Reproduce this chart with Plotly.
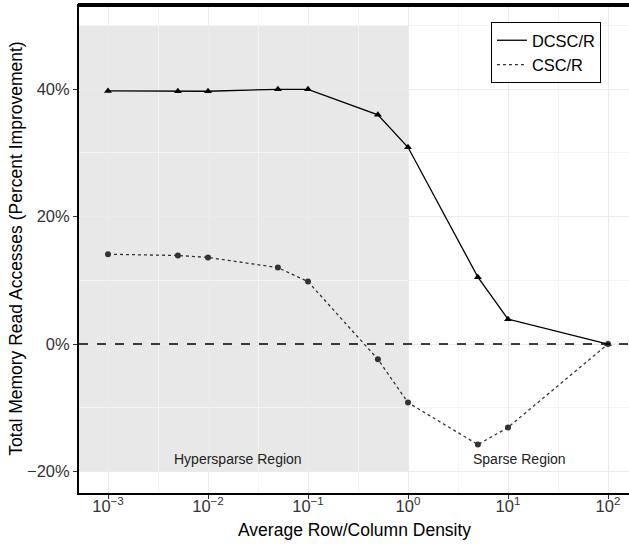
import math
import plotly.graph_objects as go

density = [0.001, 0.005, 0.01, 0.05, 0.1, 0.5, 1, 5, 10, 100]
dcsc = [39.75, 39.7, 39.7, 40.0, 40.0, 36.0, 30.9, 10.5, 3.9, 0.0]
csc = [14.1, 13.9, 13.6, 12.0, 9.8, -2.4, -9.2, -15.8, -13.1, 0.0]

xtick_vals = [0.001, 0.01, 0.1, 1, 10, 100]
xtick_text = ["10<sup>−3</sup>", "10<sup>−2</sup>", "10<sup>−1</sup>", "10<sup>0</sup>", "10<sup>1</sup>", "10<sup>2</sup>"]
xminor_vals = [10 ** (k + 0.5) for k in range(-4, 3)]
ytick_vals = [-20, 0, 20, 40]
ytick_text = ["−20%", "0%", "20%", "40%"]
yminor_vals = [-10, 10, 30, 50]

hyper_x = [0.0001, 1]
region_y = [-20, 50]
labels = ["Hypersparse Region", "Sparse Region"]
label_x = [0.0201, 13.1]
label_y = -18.1
x_title = "Average Row/Column Density"
y_title = "Total Memory Read Accesses (Percent Improvement)"

font = "Liberation Sans, Arial, sans-serif"
fig = go.Figure()

# DCSC/R
fig.add_trace(go.Scatter(x=density, y=dcsc, mode="lines", name="DCSC/R",
                         line=dict(color="black", width=1.3)))
fig.add_trace(go.Scatter(x=density, y=dcsc, mode="markers", showlegend=False,
                         marker=dict(symbol="triangle-up", size=7, color="black")))
# CSC/R
fig.add_trace(go.Scatter(x=density, y=csc, mode="lines", name="CSC/R",
                         line=dict(color="#333333", width=1.3, dash="dot")))
fig.add_trace(go.Scatter(x=density, y=csc, mode="markers", showlegend=False,
                         marker=dict(symbol="circle", size=6, color="#333333")))

fig.add_shape(type="rect", xref="x", yref="y", x0=hyper_x[0], x1=hyper_x[1],
              y0=region_y[0], y1=region_y[1], fillcolor="rgba(190,190,190,0.35)",
              line_width=0, layer="below")
fig.add_shape(type="line", xref="paper", yref="y", x0=0, x1=1, y0=0, y1=0,
              line=dict(color="black", width=1.3, dash="dash"))
# top frame line (inside the plot area top edge)
fig.add_shape(type="rect", xref="paper", yref="paper", x0=-0.002, x1=1, y0=0.994, y1=1.002,
              fillcolor="black", line_width=0, layer="above")

for t, lx in zip(labels, label_x):
    fig.add_annotation(x=math.log10(lx), y=label_y, xref="x", yref="y", text=t, showarrow=False,
                       font=dict(size=14, color="#222222", family=font))

fig.add_annotation(x=0.5, y=-0.0757, xref="paper", yref="paper", text=x_title, showarrow=False,
                   xanchor="center", yanchor="middle",
                   font=dict(size=17.5, color="black", family=font))

fig.update_xaxes(type="log", range=[-3.29, 2.21], tickvals=xtick_vals, ticktext=xtick_text,
                 automargin=False,
                 showline=True, linecolor="black", linewidth=2,
                 ticks="outside", ticklen=4, tickcolor="#333333", ticklabelstandoff=-7,
                 gridcolor="#EBEBEB", gridwidth=1, zeroline=False,
                 minor=dict(tickvals=xminor_vals, showgrid=True, gridcolor="#F4F4F4", ticks=""),
                 tickfont=dict(size=16.5, color="#333333", family=font))
fig.update_yaxes(range=[-23.4, 53.4], tickvals=ytick_vals, ticktext=ytick_text,
                 automargin=False,
                 showline=True, linecolor="black", linewidth=2,
                 ticks="outside", ticklen=4, tickcolor="#333333",
                 gridcolor="#EBEBEB", gridwidth=1, zeroline=False,
                 minor=dict(tickvals=yminor_vals, showgrid=True, gridcolor="#F4F4F4", ticks=""),
                 tickfont=dict(size=16.5, color="#333333", family=font),
                 title=dict(text=y_title, font=dict(size=17.5, color="black", family=font), standoff=0))

fig.update_layout(width=629, height=544, margin=dict(l=79, r=0, t=4, b=51),
                  plot_bgcolor="white", paper_bgcolor="white",
                  font=dict(family=font),
                  legend=dict(x=0.949, y=0.963, xanchor="right", yanchor="top",
                              bordercolor="black", borderwidth=1, bgcolor="white",
                              font=dict(size=16.4, color="black", family=font),
                              tracegroupgap=0, itemwidth=30))

fig.write_html("out.html", config={"displayModeBar": False},
               post_script="document.body.style.margin='0';document.body.style.padding='0';")
